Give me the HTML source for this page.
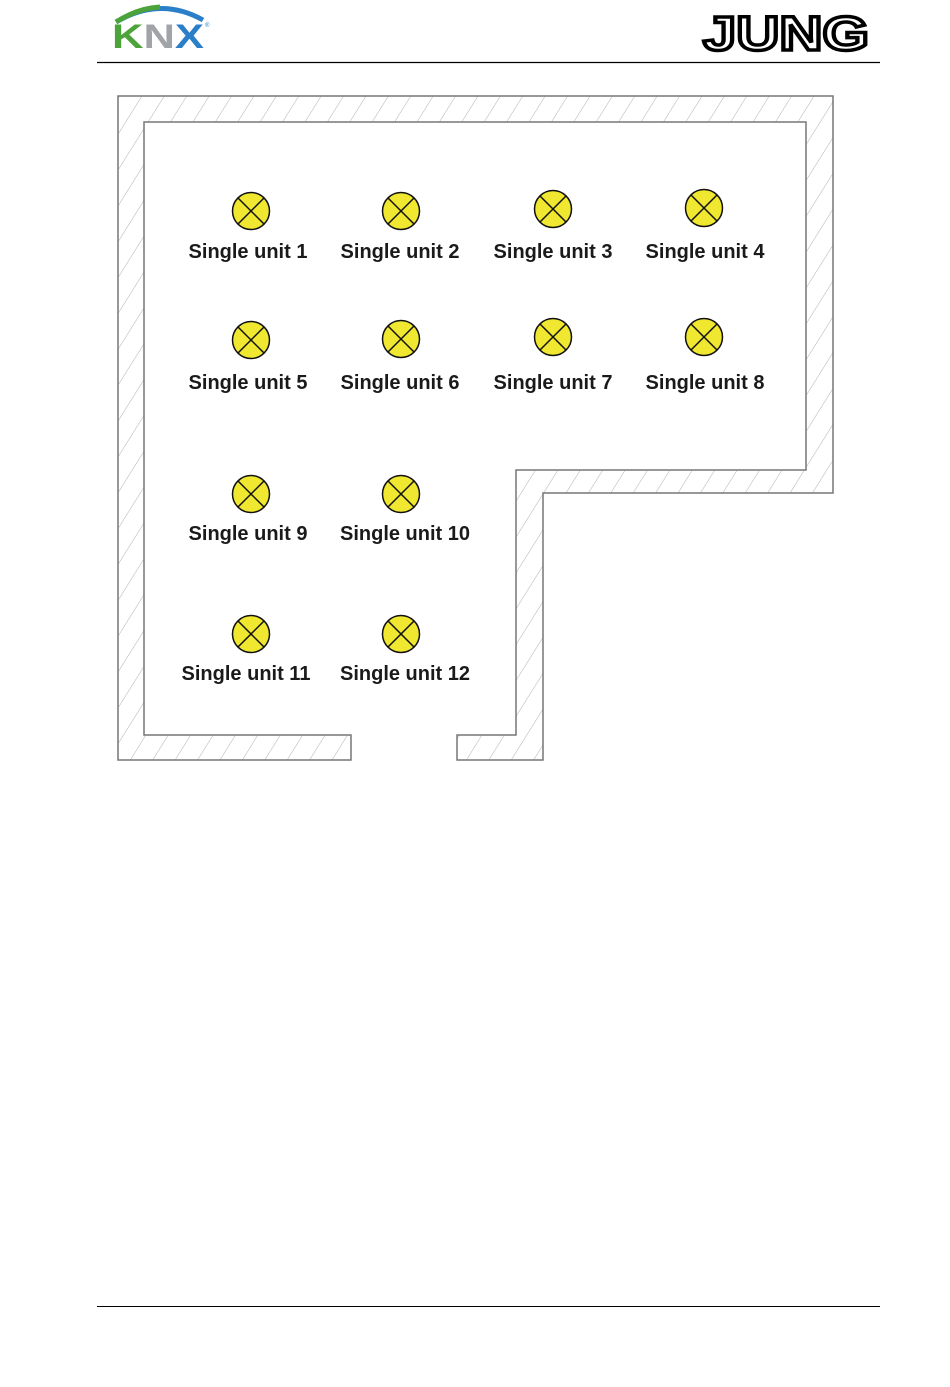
<!DOCTYPE html>
<html><head><meta charset="utf-8"><style>
html,body{margin:0;padding:0;background:#fff;}
svg{display:block;}
</style></head><body>
<svg width="950" height="1387" viewBox="0 0 950 1387" xmlns="http://www.w3.org/2000/svg">
<defs>
<pattern id="h" width="19" height="19" patternUnits="userSpaceOnUse" patternTransform="rotate(32)">
<line x1="0" y1="0" x2="0" y2="19" stroke="#b0b0b0" stroke-width="1"/>
</pattern>
</defs>
<!-- header -->
<path d="M116 22 Q160 -4 203 20" stroke="#2a7fc8" stroke-width="5" fill="none"/>
<path d="M116 22 Q138 8 160 7" stroke="#4ca33a" stroke-width="5" fill="none"/>
<text x="112" y="48" font-family="Liberation Sans, sans-serif" font-size="34" font-weight="bold" textLength="92" lengthAdjust="spacingAndGlyphs"><tspan fill="#4ca33a">K</tspan><tspan fill="#a0a4a8">N</tspan><tspan fill="#2a7fc8">X</tspan></text>
<text x="205" y="27" font-family="Liberation Sans, sans-serif" font-size="6" fill="#2a7fc8">®</text>
<text x="703" y="50" font-family="Liberation Sans, sans-serif" font-size="48" font-weight="bold" fill="#fff" stroke="#000" stroke-width="3.5" textLength="166" lengthAdjust="spacingAndGlyphs">JUNG</text>
<line x1="97" y1="62.5" x2="880" y2="62.5" stroke="#000" stroke-width="1.3"/>
<line x1="97" y1="1306.5" x2="880" y2="1306.5" stroke="#000" stroke-width="1"/>
<!-- walls -->
<path d="M118 96 H833 V493 H543 V760 H457 V735 H516 V470 H806 V122 H144 V735 H351 V760 H118 Z" fill="url(#h)" stroke="#777" stroke-width="1.5"/>
<g stroke="#111" stroke-width="1.5" fill="#f0e830">
<circle cx="251" cy="211" r="18.5"/><circle cx="401" cy="211" r="18.5"/><circle cx="553" cy="209" r="18.5"/><circle cx="704" cy="208" r="18.5"/>
<circle cx="251" cy="340" r="18.5"/><circle cx="401" cy="339" r="18.5"/><circle cx="553" cy="337" r="18.5"/><circle cx="704" cy="337" r="18.5"/>
<circle cx="251" cy="494" r="18.5"/><circle cx="401" cy="494" r="18.5"/>
<circle cx="251" cy="634" r="18.5"/><circle cx="401" cy="634" r="18.5"/>
</g>
<g stroke="#111" stroke-width="1.5">
<path d="M238 198l26 26M264 198l-26 26 M388 198l26 26M414 198l-26 26 M540 196l26 26M566 196l-26 26 M691 195l26 26M717 195l-26 26
M238 327l26 26M264 327l-26 26 M388 326l26 26M414 326l-26 26 M540 324l26 26M566 324l-26 26 M691 324l26 26M717 324l-26 26
M238 481l26 26M264 481l-26 26 M388 481l26 26M414 481l-26 26
M238 621l26 26M264 621l-26 26 M388 621l26 26M414 621l-26 26"/>
</g>
<g font-family="Liberation Sans, sans-serif" font-size="20" font-weight="bold" fill="#1a1a1a" text-anchor="middle">
<text x="248" y="258">Single unit 1</text><text x="400" y="258">Single unit 2</text><text x="553" y="258">Single unit 3</text><text x="705" y="258">Single unit 4</text>
<text x="248" y="389">Single unit 5</text><text x="400" y="389">Single unit 6</text><text x="553" y="389">Single unit 7</text><text x="705" y="389">Single unit 8</text>
<text x="248" y="540">Single unit 9</text><text x="405" y="540">Single unit 10</text>
<text x="246" y="680">Single unit 11</text><text x="405" y="680">Single unit 12</text>
</g>
</svg>
</body></html>
